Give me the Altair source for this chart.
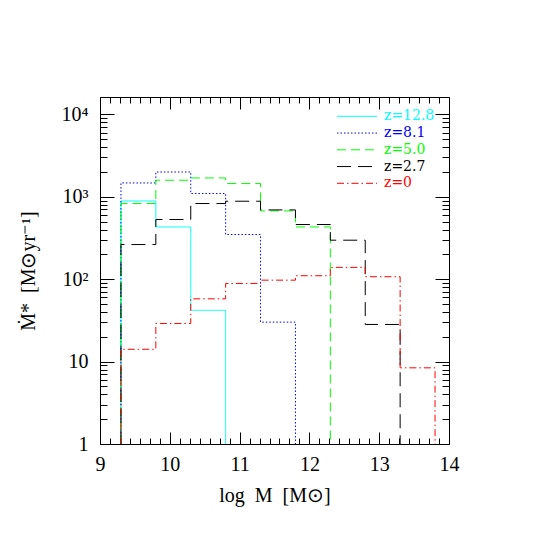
import altair as alt
import pandas as pd

# ---- data ----
edges = [9.3, 9.8, 10.3, 10.8, 11.3, 11.8, 12.3, 12.8, 13.3, 13.8]
labels = ["z=12.8", "z=8.1", "z=5.0", "z=2.7", "z=0"]
colors = ["#00FFFF", "#0000FF", "#00FF00", "#000000", "#FF0000"]
dashes = [[1, 0], [1.5, 2], [9, 5], [14, 7], [7, 3, 1.5, 3]]

sfr_z128 = [889, 430, 41.8]
sfr_z81 = [1470, 1996, 1094, 348, 30.1]
sfr_z50 = [827, 1585, 1690, 1445, 673, 430]
sfr_z27 = [263, 529, 827, 882, 692, 460, 297, 28.2]
sfr_z0 = [14.1, 29, 57.7, 88.7, 97.2, 110, 139, 107, 8.4]
series_values = [sfr_z128, sfr_z81, sfr_z50, sfr_z27, sfr_z0]

x_major = [9, 10, 11, 12, 13, 14]
x_minor = [round(9 + k / 7, 5) for k in range(36) if k % 7 != 0]
y_major = [1, 10, 100, 1000, 10000]
y_major_labels = ["1", "10", "10²", "10³", "10⁴"]
y_minor = [m * 10 ** d for d in range(4) for m in range(2, 10)]
Y_FLOOR = 1
Y_TOP = 10 ** 4.21

W, H = 349, 347
FONT = "Liberation Serif"
NB = "\u00a0"


def step_frame(vals):
    xs = [edges[0]] + edges[:len(vals)] + [edges[len(vals)]]
    ys = [Y_FLOOR] + vals + [Y_FLOOR]
    return pd.DataFrame({"x": xs, "y": ys, "i": list(range(len(xs)))})


xscale = alt.Scale(domain=[9, 14], nice=False)
yscale = alt.Scale(type="log", domain=[Y_FLOOR, Y_TOP], nice=False)

lbl_expr = "[" + ",".join("'%s'" % s for s in y_major_labels) + "][round(log(datum.value)/LN10)]"


def tick_axis(orient, values, size, labels=False, **kw):
    return alt.Axis(orient=orient, values=values, tickSize=size, offset=-size,
                    domain=False, grid=False, labels=labels, title=None,
                    tickColor="black", tickWidth=1, labelFlush=False,
                    labelOverlap=False, **kw)


title_x = alt.Axis(orient="bottom", ticks=False, labels=False, domain=False, grid=False,
                   title="log" + NB * 2 + "M" + NB * 2 + "[M⊙]", titleX=W / 2, titleY=51,
                   titleAlign="center", titleBaseline="middle", titleFont=FONT,
                   titleFontSize=20, titleFontWeight="normal", titleColor="black")
title_y = alt.Axis(orient="left", ticks=False, labels=False, domain=False, grid=False,
                   title="Ṁ*" + NB * 2 + "[M⊙yr⁻¹]", titleX=-72, titleY=H / 2,
                   titleAlign="center", titleBaseline="middle", titleFont=FONT,
                   titleFontSize=20, titleFontWeight="normal", titleColor="black",
                   titleAngle=270)

axes = [
    (tick_axis("bottom", x_major, 12, labels=True, format="d", labelFont=FONT,
               labelFontSize=20, labelPadding=10, labelColor="black"),
     tick_axis("left", y_major, 14, labels=True, labelExpr=lbl_expr, labelFont=FONT,
               labelFontSize=20, labelPadding=12, labelColor="black",
               labelBaseline="middle")),
    (tick_axis("bottom", x_minor, 6), tick_axis("left", y_minor, 7)),
    (tick_axis("top", x_major, 12), tick_axis("right", y_major, 14)),
    (tick_axis("top", x_minor, 6), tick_axis("right", y_minor, 7)),
    (title_x, title_y),
]

layers = []
for k, vals in enumerate(series_values):
    xa, ya = axes[k]
    layers.append(
        alt.Chart(step_frame(vals)).mark_line(
            interpolate="step-after", color=colors[k], strokeDash=dashes[k], strokeWidth=1
        ).encode(
            x=alt.X("x:Q", scale=xscale, axis=xa),
            y=alt.Y("y:Q", scale=yscale, axis=ya),
            order=alt.Order("i:Q"),
        )
    )

legend_df = pd.DataFrame({"label": labels, "row": list(range(len(labels)))})
leg_y = alt.Y("row:O", scale=alt.Scale(type="point", range=[19.3, 86.3], padding=0), axis=None)
leg_color = alt.Color("label:N", scale=alt.Scale(domain=labels, range=colors), legend=None)
leg_rules = alt.Chart(legend_df).mark_rule(strokeWidth=1).encode(
    x=alt.value(237), x2=alt.value(277), y=leg_y, color=leg_color,
    strokeDash=alt.StrokeDash("label:N", scale=alt.Scale(domain=labels, range=dashes), legend=None),
)
leg_text = alt.Chart(legend_df).mark_text(
    align="left", baseline="middle", font="DejaVu Serif", fontSize=14
).encode(x=alt.value(284), y=leg_y, text="label:N", color=leg_color)

chart = alt.layer(*layers, leg_rules, leg_text).resolve_scale(
    y="independent"
).resolve_axis(x="independent", y="independent").properties(
    width=W, height=H,
    autosize=alt.AutoSizeParams(type="none"),
    padding={"left": 92, "top": 89, "right": 80, "bottom": 85},
).configure_view(stroke="black", strokeWidth=1)

chart.save("out.html", embed_options={"renderer": "svg", "actions": False})
